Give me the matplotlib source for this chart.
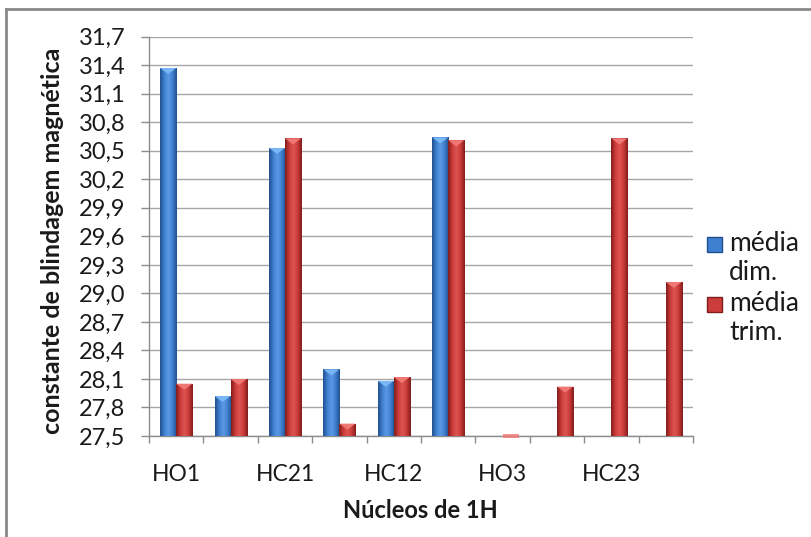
import numpy as np
import matplotlib
matplotlib.use("Agg")
import matplotlib.pyplot as plt
from matplotlib.patches import Polygon, Rectangle
from matplotlib.lines import Line2D
from matplotlib.colors import LinearSegmentedColormap

plt.rcParams['font.family'] = ['Lato', 'DejaVu Sans']

# Data
categories = ["HO1", "", "HC21", "", "HC12", "", "HO3", "", "HC23", ""]
media_dim = [31.37, 27.92, 30.53, 28.20, 28.08, 30.64, np.nan, np.nan, np.nan, np.nan]
media_trim = [28.05, 28.10, 30.63, 27.63, 28.12, 30.61, 27.50, 28.02, 30.63, 29.12]
series_names = ["média\ndim.", "média\ntrim."]
y_ticks = [27.5, 27.8, 28.1, 28.4, 28.7, 29.0, 29.3, 29.6, 29.9, 30.2, 30.5, 30.8, 31.1, 31.4, 31.7]

base = 27.5
ymax = 31.7
W, H = 811, 537

fig = plt.figure(figsize=(W / 100, H / 100), dpi=100)
ax = fig.add_axes([149 / W, 1 - 436 / H, 544 / W, (436 - 36.7) / H])

x = np.arange(len(categories)) + 0.5
w = 0.295

palettes = {
    "blue": dict(edge="#1f4f8f", mid="#3f7fcf", light="#5a9ae6", top="#78b6f5"),
    "red": dict(edge="#7f1c1c", mid="#cc3c3a", light="#dd5450", top="#f07874"),
}

px_y = (ymax - base) / 399.3  # data units per pixel on the value axis


def shaded_bars(xpos, vals, pal):
    vals = np.asarray(vals, dtype=float)
    heights = vals - base
    bars = ax.bar(xpos, heights, width=w, bottom=base, color=pal["mid"],
                  linewidth=0, zorder=3)
    cmap = LinearSegmentedColormap.from_list(
        "bevel", [pal["edge"], pal["mid"], pal["light"], pal["mid"], pal["edge"]])
    grad = np.linspace(0, 1, 64).reshape(1, -1)
    tri_h = 6 * px_y
    for b, v in zip(bars, vals):
        if np.isnan(v):
            continue
        x0, y0 = b.get_x(), b.get_y()
        bw, bh = b.get_width(), b.get_height()
        if bh < tri_h:
            # flat bar: only its bevelled top face shows, straddling the axis
            ax.add_patch(Rectangle((x0, y0 + bh - 2 * px_y), bw, 4 * px_y,
                                   facecolor=pal["top"], edgecolor="none",
                                   alpha=0.8, zorder=4, clip_on=False))
            continue
        im = ax.imshow(grad, cmap=cmap, extent=[x0, x0 + bw, y0, y0 + bh],
                       aspect="auto", zorder=3.5, interpolation="bicubic")
        im.set_clip_path(b)
        tri = Polygon([[x0, y0 + bh], [x0 + bw, y0 + bh], [x0 + bw / 2, y0 + bh - tri_h]],
                      closed=True, facecolor=pal["top"], edgecolor="none", zorder=4)
        ax.add_patch(tri)
    return bars


shaded_bars(x - w / 2, media_dim, palettes["blue"])
shaded_bars(x + w / 2, media_trim, palettes["red"])

ax.set_xlim(0, len(categories))
ax.set_ylim(base, ymax)
ax.set_yticks(y_ticks)
ax.set_yticklabels([f"{t:.1f}".replace(".", ",") for t in y_ticks], fontsize=17, color="#1a1a1a")
ax.yaxis.grid(True, color="#a6a6a6", linewidth=1.0, zorder=0)
ax.set_axisbelow(True)

ax.set_xticks(np.arange(len(categories) + 1))
ax.set_xticklabels([])
ax.set_xticks(x, minor=True)
ax.set_xticklabels(categories, minor=True, fontsize=16.5, color="#1a1a1a")
ax.tick_params(axis="x", which="minor", length=0, pad=20)
ax.tick_params(axis="x", which="major", length=5, color="#8c8c8c", width=1.0)
ax.tick_params(axis="y", length=6, color="#8c8c8c", width=1.0, pad=11)

for s in ["top", "right"]:
    ax.spines[s].set_visible(False)
for s in ["left", "bottom"]:
    ax.spines[s].set_color("#8c8c8c")
    ax.spines[s].set_linewidth(1.0)

ax.set_ylabel("constante de blindagem magnética", fontsize=18, fontweight="bold",
              color="#1a1a1a")
ax.yaxis.set_label_coords((64 - 149) / 544, 0.49)
ax.set_xlabel("Núcleos de 1H", fontsize=17, fontweight="bold", color="#1a1a1a")
ax.xaxis.set_label_coords(0.498, -(499 - 436) / 399.3)

# Legend entries: swatch beside the first line of each two-line label
legend_rows = [(palettes["blue"], 237), (palettes["red"], 297)]
for (pal, top), name in zip(legend_rows, series_names):
    fig.add_artist(Rectangle((707 / W, 1 - (top + 15) / H), 15 / W, 15 / H,
                             facecolor=pal["mid"], edgecolor=pal["edge"], linewidth=1,
                             transform=fig.transFigure))
    fig.text(729 / W, 1 - (top - 6) / H, name, fontsize=19, color="#1a1a1a",
             va="top", ha="left", linespacing=1.22)

# Chart frame
fig.add_artist(Line2D([6 / W, 1], [1 - 9 / H, 1 - 9 / H], color="#8a8a8a", linewidth=2,
                      transform=fig.transFigure))
fig.add_artist(Line2D([6 / W, 6 / W], [1 - 9 / H, 0], color="#8a8a8a", linewidth=2,
                      transform=fig.transFigure))

fig.savefig("out.png", dpi=100)
